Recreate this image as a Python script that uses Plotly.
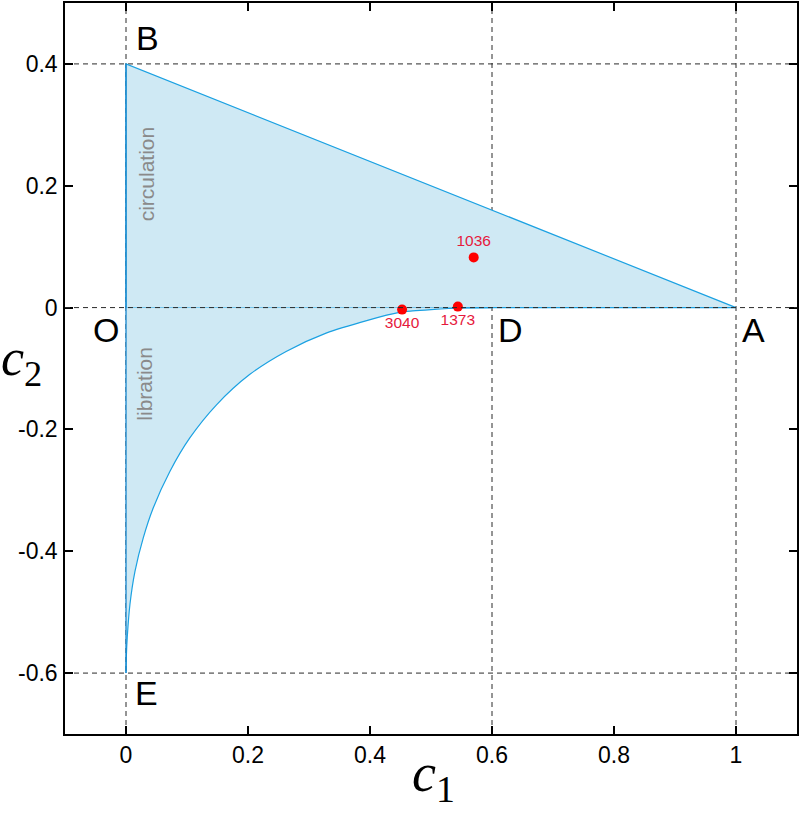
import plotly.graph_objects as go

# lower boundary curve E -> D
curve_c1 = [0.0, 0.0005, 0.002, 0.0065, 0.0147, 0.0283, 0.0446, 0.0719, 0.1046, 0.148,
            0.2026, 0.2625, 0.328, 0.396, 0.448, 0.47, 0.5, 0.529, 0.56, 0.6]
curve_c2 = [-0.6, -0.575, -0.542, -0.487, -0.433, -0.378, -0.329, -0.269, -0.214, -0.160,
            -0.110, -0.072, -0.042, -0.021, -0.008, -0.0055, -0.0032, -0.0015, -0.0004, 0.0]

# upper triangle O, B, A
tri_c1 = [0.0, 0.0, 1.0, 0.0]
tri_c2 = [0.0, 0.4, 0.0, 0.0]

# marked objects
pts_c1 = [0.4526, 0.544, 0.570]
pts_c2 = [-0.0033, 0.0016, 0.0824]
pts_labels = ["3040", "1373", "1036"]

# corner letters
letters = ["B", "O", "D", "A", "E"]
letters_c1 = [0.036, -0.033, 0.631, 1.028, 0.034]
letters_c2 = [0.442, -0.037, -0.037, -0.037, -0.632]

x_ticks = [0, 0.2, 0.4, 0.6, 0.8, 1]
x_ticktext = ["0", "0.2", "0.4", "0.6", "0.8", "1"]
y_ticks = [-0.6, -0.4, -0.2, 0, 0.2, 0.4]
y_ticktext = ["-0.6", "-0.4", "-0.2", "0", "0.2", "0.4"]

blue = "#1ba1e2"
shade = "#cfe9f4"
red_txt = "#e6193c"
sans = "Arial, Liberation Sans"
serif = "Liberation Serif, Times New Roman"

fig = go.Figure()

# circulation part (triangle)
fig.add_trace(go.Scatter(
    x=tri_c1, y=tri_c2, mode="lines", fill="toself", fillcolor=shade,
    line=dict(color=blue, width=1.2), hoverinfo="skip", showlegend=False,
))
# libration part (between curve and c2 = 0)
fig.add_trace(go.Scatter(
    x=curve_c1, y=curve_c2, mode="lines", fill="tozeroy", fillcolor=shade,
    line=dict(color=blue, width=1.2, shape="spline", smoothing=0.8),
    hoverinfo="skip", showlegend=False,
))
# left edge E -> B
fig.add_trace(go.Scatter(
    x=[0, 0], y=[curve_c2[0], tri_c2[1]], mode="lines",
    line=dict(color="#1585cc", width=1.3), hoverinfo="skip", showlegend=False,
))

fig.add_trace(go.Scatter(
    x=pts_c1, y=pts_c2,
    mode="markers+text",
    marker=dict(color="#ff0000", size=10),
    text=pts_labels,
    textposition=["bottom center", "bottom center", "top center"],
    textfont=dict(family=sans, size=15.5, color=red_txt),
    showlegend=False,
))

# dashed guide lines
grid = dict(color="#2a2a2a", width=1, dash="5px,4px")
for xv in [0, 0.6, 1]:
    fig.add_shape(type="line", xref="x", yref="paper", x0=xv, x1=xv, y0=0, y1=1,
                  line=grid, layer="below")
for yv in [0.4, -0.6]:
    fig.add_shape(type="line", xref="paper", yref="y", x0=0, x1=1, y0=yv, y1=yv,
                  line=grid, layer="below")
fig.add_shape(type="line", xref="paper", yref="y", x0=0, x1=1, y0=0, y1=0,
              line=grid, layer="above")

for t, cx, cy in zip(letters, letters_c1, letters_c2):
    fig.add_annotation(x=cx, y=cy, text=t, showarrow=False,
                       font=dict(family=sans, size=34, color="black"))

fig.add_annotation(x=0.034, y=0.22, text="circulation", textangle=-90, showarrow=False,
                   font=dict(family=sans, size=21, color="#8a8a8a"))
fig.add_annotation(x=0.031, y=-0.125, text="libration", textangle=-90, showarrow=False,
                   font=dict(family=sans, size=21, color="#8a8a8a"))

# axis titles
fig.add_annotation(xref="paper", yref="paper", x=(434 - 65) / 732, y=-(777 - 734) / 733,
                   xanchor="center", yanchor="middle",
                   text="<i>c</i><sub>1</sub>", showarrow=False,
                   font=dict(family=serif, size=54, color="black"))
fig.add_annotation(xref="paper", yref="paper", x=-(65 - 21) / 732, y=(734 - 360) / 733,
                   xanchor="center", yanchor="middle",
                   text="<i>c</i><sub>2</sub>", showarrow=False,
                   font=dict(family=serif, size=52, color="black"))

axis_common = dict(
    showgrid=False, zeroline=False, showline=True, linecolor="black", linewidth=1.5,
    mirror="allticks", ticks="inside", ticklen=8, tickwidth=1.5, tickcolor="black",
    tickfont=dict(family=sans, size=23, color="black"),
)
fig.update_xaxes(range=[-0.1, 1.1], tickvals=x_ticks, ticktext=x_ticktext, **axis_common)
fig.update_yaxes(range=[-0.7, 0.5], tickvals=y_ticks, ticktext=y_ticktext,
                 ticklabelstandoff=1, **axis_common)

fig.update_layout(
    width=800, height=819,
    margin=dict(l=65, r=3, t=1, b=85),
    plot_bgcolor="white", paper_bgcolor="white",
    showlegend=False,
)

fig.write_html("out.html", config={"displayModeBar": False},
               post_script="document.body.style.margin='0';")
